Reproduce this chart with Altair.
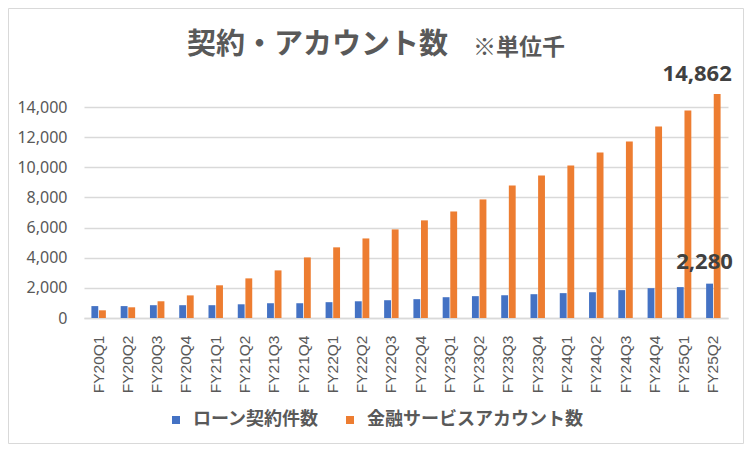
import altair as alt
import pandas as pd

quarters = ["FY20Q1", "FY20Q2", "FY20Q3", "FY20Q4", "FY21Q1", "FY21Q2", "FY21Q3", "FY21Q4",
            "FY22Q1", "FY22Q2", "FY22Q3", "FY22Q4", "FY23Q1", "FY23Q2", "FY23Q3", "FY23Q4",
            "FY24Q1", "FY24Q2", "FY24Q3", "FY24Q4", "FY25Q1", "FY25Q2"]
loan = [790, 790, 850, 850, 850, 910, 980, 980, 1050, 1110, 1180, 1250,
        1380, 1450, 1510, 1580, 1650, 1710, 1850, 1980, 2050, 2280]
accounts = [510, 710, 1110, 1500, 2170, 2630, 3160, 4020, 4690, 5280, 5880, 6480,
            7070, 7870, 8800, 9460, 10120, 10980, 11710, 12710, 13770, 14862]
series_names = ["ローン契約件数", "金融サービスアカウント数"]
colors = ["#4472C4", "#ED7D31"]
y_ticks = [0, 2000, 4000, 6000, 8000, 10000, 12000, 14000]
title_text = "契約・アカウント数"
note_text = "※単位千"

rows = []
for i, q in enumerate(quarters):
    rows.append({"q": q, "series": series_names[0], "value": loan[i]})
    rows.append({"q": q, "series": series_names[1], "value": accounts[i]})
df = pd.DataFrame(rows)

GRAY = "#595959"
GRID = "#d9d9d9"

x = alt.X("q:N", sort=quarters, title=None,
          scale=alt.Scale(paddingInner=0.48, paddingOuter=0.24),
          axis=alt.Axis(labelAngle=270, ticks=False, labelPadding=17,
                        labelFont="Liberation Sans", labelFontSize=15.5,
                        labelColor=GRAY, domainColor=GRID, domainWidth=1.5,
                        grid=False))
xo = alt.XOffset("series:N", sort=series_names,
                 scale=alt.Scale(domain=series_names, paddingInner=0.1, paddingOuter=0.05))
y = alt.Y("value:Q", title=None,
          scale=alt.Scale(domain=[0, 15000], nice=False),
          axis=alt.Axis(values=y_ticks, format=",.0f", domain=False, ticks=False,
                        labelPadding=17, labelFont="Noto Sans", labelFontSize=16,
                        labelColor=GRAY, gridColor=GRID, gridWidth=1.5))
color = alt.Color("series:N", sort=series_names,
                  scale=alt.Scale(domain=series_names, range=colors),
                  legend=alt.Legend(title=None, orient="none", legendX=83, legendY=319,
                                    direction="horizontal", symbolType="square",
                                    symbolSize=64, symbolStrokeWidth=0,
                                    labelFont="Noto Sans CJK JP", labelFontSize=18,
                                    labelFontWeight="bold", labelColor=GRAY,
                                    labelLimit=400, columnPadding=22, labelOffset=8))

base = alt.Chart(df)
bars = base.mark_bar().encode(x=x, xOffset=xo, y=y, color=color)

last_q = quarters[-1]
lbl_orange = base.transform_filter(
    (alt.datum.q == last_q) & (alt.datum.series == series_names[1])
).mark_text(dx=-20, dy=-13, baseline="alphabetic", align="center", fontSize=22,
            fontWeight="bold", font="Noto Sans", color="#404040").encode(
    x=x, xOffset=xo, y=y, text=alt.Text("value:Q", format=",.0f"))
lbl_blue = base.transform_filter(
    (alt.datum.q == last_q) & (alt.datum.series == series_names[0])
).mark_text(dx=-5, dy=-15, baseline="alphabetic", align="center", fontSize=22,
            fontWeight="bold", font="Noto Sans", color="#404040").encode(
    x=x, xOffset=xo, y=y, text=alt.Text("value:Q", format=",.0f"))

title_mark = alt.Chart(alt.Data(values=[{"t": title_text}])).mark_text(
    align="left", baseline="alphabetic", fontSize=29, fontWeight="bold",
    font="Noto Sans CJK JP", color=GRAY).encode(
    x=alt.value(103), y=alt.value(-38), text="t:N")

note = alt.Chart(alt.Data(values=[{"t": note_text}])).mark_text(
    align="left", baseline="alphabetic", fontSize=23, fontWeight="bold",
    font="Noto Sans CJK JP", color=GRAY).encode(
    x=alt.value(389), y=alt.value(-37), text="t:N")

border = alt.Chart(alt.Data(values=[{"a": 1}])).mark_rect(
    fillOpacity=0, stroke=GRID, strokeWidth=1).encode(
    x=alt.value(-75.5), x2=alt.value(659.5), y=alt.value(-83.5), y2=alt.value(351.5))

chart = alt.layer(border, bars, lbl_orange, lbl_blue, title_mark, note).properties(
    width=644, height=226,
    autosize=alt.AutoSizeParams(type="none"),
    padding={"left": 76, "top": 84, "right": 16, "bottom": 126},
    background="white",
).configure_view(stroke=None)

chart.save("out.html", embed_options={"renderer": "svg", "actions": False})
